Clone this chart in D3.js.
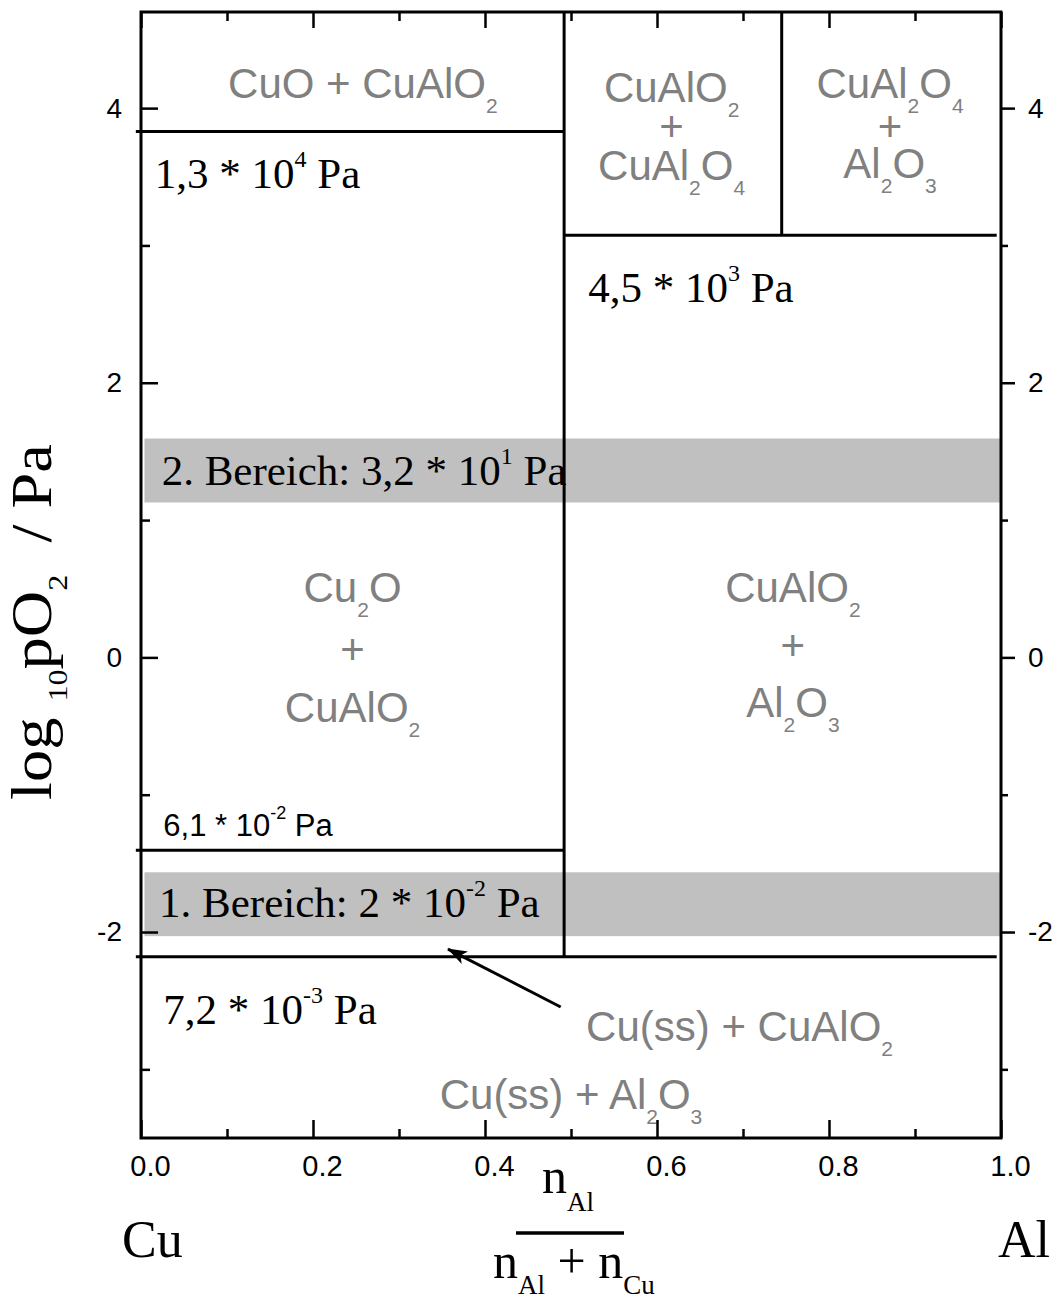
<!DOCTYPE html>
<html>
<head>
<meta charset="utf-8">
<script src="https://cdn.jsdelivr.net/npm/d3@7"></script>
<style>
  body { margin: 0; background: #fff; }
  svg text { white-space: pre; }
</style>
</head>
<body>
<div id="chart"></div>
<script>
// axis ticks
var xTicksMajor = [0.0, 0.2, 0.4, 0.6, 0.8, 1.0];
var xTicksMinor = [0.1, 0.3, 0.5, 0.7, 0.9];
var yTicksMajor = [-2, 0, 2, 4];
var yTicksMinor = [-3, -1, 1, 3];

// phase boundaries (x = n_Al/(n_Al+n_Cu), y = log10 pO2)
var vBoundaries = [
  { x: 0.492, y0: -2.18, y1: 4.7 },
  { x: 0.745, y0: 3.075, y1: 4.7 }
];
var hBoundaries = [
  { y: 3.83, x0: -0.006, x1: 0.492 },
  { y: 3.075, x0: 0.492, x1: 0.995 },
  { y: -1.405, x0: -0.006, x1: 0.492 },
  { y: -2.18, x0: -0.006, x1: 0.995 }
];

// grey bands of the two measuring ranges
var bands = [
  { lo: 1.128, hi: 1.594, x0: 0.004, x1: 1.0 },
  { lo: -2.03, hi: -1.565, x0: 0.004, x1: 1.0 }
];

// phase fields (grey), one entry per line of text
var phaseLabels = [
  { text: 'CuO + CuAlO_{2}', x: 0.258, y: 4.074 },
  { text: 'CuAlO_{2}', x: 0.617, y: 4.045 },
  { text: '+', x: 0.617, y: 3.761 },
  { text: 'CuAl_{2}O_{4}', x: 0.617, y: 3.477 },
  { text: 'CuAl_{2}O_{4}', x: 0.871, y: 4.074 },
  { text: '+', x: 0.871, y: 3.761 },
  { text: 'Al_{2}O_{3}', x: 0.871, y: 3.491 },
  { text: 'Cu_{2}O', x: 0.246, y: 0.403 },
  { text: '+', x: 0.246, y: -0.048 },
  { text: 'CuAlO_{2}', x: 0.246, y: -0.471 },
  { text: 'CuAlO_{2}', x: 0.758, y: 0.403 },
  { text: '+', x: 0.758, y: -0.019 },
  { text: 'Al_{2}O_{3}', x: 0.758, y: -0.434 },
  { text: 'Cu(ss) + CuAlO_{2}', x: 0.696, y: -2.794 },
  { text: 'Cu(ss) + Al_{2}O_{3}', x: 0.5, y: -3.289 }
];

// pressure notes (black)
var pressureLabels = [
  { text: '1,3 * 10^{4} Pa', x: 0.016, y: 3.418, serif: true },
  { text: '4,5 * 10^{3} Pa', x: 0.520, y: 2.588, serif: true },
  { text: '2. Bereich: 3,2 * 10^{1} Pa', x: 0.024, y: 1.255, serif: true },
  { text: '6,1 * 10^{-2} Pa', x: 0.026, y: -1.301, serif: false },
  { text: '1. Bereich: 2 * 10^{-2} Pa', x: 0.021, y: -1.891, serif: true },
  { text: '7,2 * 10^{-3} Pa', x: 0.026, y: -2.670, serif: true }
];

var arrowFrom = [0.488, -2.546];
var arrowTo = [0.357, -2.124];

var W = 1061, H = 1302;
var pLeft = 141, pRight = 1001, pTop = 12, pBottom = 1138;
var sans = "'Liberation Sans', Arial, sans-serif";
var serif = "'Liberation Serif', 'Times New Roman', serif";

var x = d3.scaleLinear().domain([0, 1]).range([pLeft, pRight]);
var y = d3.scaleLinear().domain([-3.5, 4.7]).range([pBottom, pTop]);

var svg = d3.select('#chart').append('svg')
  .attr('width', W)
  .attr('height', H)
  .attr('viewBox', '0 0 ' + W + ' ' + H);

svg.append('defs').append('marker')
  .attr('id', 'head')
  .attr('markerUnits', 'userSpaceOnUse')
  .attr('viewBox', '0 0 20 14')
  .attr('refX', 19).attr('refY', 7)
  .attr('markerWidth', 20).attr('markerHeight', 14)
  .attr('orient', 'auto')
  .append('path')
  .attr('d', 'M0,0 L20,7 L0,14 L5,7 Z')
  .attr('fill', '#000');

// writes "CuAl_{2}O_{4}" or "10^{-2}" as tspans
function richText(sel, str, size, o) {
  var parts = str.split(/([_^]\{[^}]*\})/).filter(function (s) { return s.length; });
  var shift = 0;
  parts.forEach(function (p) {
    var m = p.match(/^([_^])\{([^}]*)\}$/);
    var target = 0, fs = size, txt = p;
    if (m) {
      txt = m[2];
      fs = o.script;
      target = m[1] == '_' ? o.drop : -o.raise;
    }
    sel.append('tspan').attr('font-size', fs).attr('dy', target - shift).text(txt);
    shift = target;
  });
}

// bands
svg.append('g').selectAll('rect')
  .data(bands)
  .enter().append('rect')
  .attr('x', function (d) { return x(d.x0); })
  .attr('width', function (d) { return x(d.x1) - x(d.x0); })
  .attr('y', function (d) { return y(d.hi); })
  .attr('height', function (d) { return y(d.lo) - y(d.hi); })
  .attr('fill', '#c0c0c0');

// phase labels
svg.append('g').selectAll('text')
  .data(phaseLabels)
  .enter().append('text')
  .attr('x', function (d) { return x(d.x); })
  .attr('y', function (d) { return y(d.y); })
  .attr('text-anchor', 'middle')
  .attr('font-family', sans)
  .attr('fill', '#808080')
  .each(function (d) { richText(d3.select(this), d.text, 42, { script: 21, drop: 15, raise: 0 }); });

// pressure labels
svg.append('g').selectAll('text')
  .data(pressureLabels)
  .enter().append('text')
  .attr('x', function (d) { return x(d.x); })
  .attr('y', function (d) { return y(d.y); })
  .attr('font-family', function (d) { return d.serif ? serif : sans; })
  .attr('fill', '#000')
  .each(function (d) {
    if (d.serif) richText(d3.select(this), d.text, 43, { script: 24, drop: 0, raise: 21 });
    else richText(d3.select(this), d.text, 31, { script: 18, drop: 0, raise: 17 });
  });

// boundaries
var lines = svg.append('g').attr('stroke', '#000').attr('stroke-width', 3);
lines.selectAll('.v')
  .data(vBoundaries)
  .enter().append('line')
  .attr('class', 'v')
  .attr('x1', function (d) { return x(d.x); })
  .attr('x2', function (d) { return x(d.x); })
  .attr('y1', function (d) { return y(d.y0); })
  .attr('y2', function (d) { return y(d.y1); });
lines.selectAll('.h')
  .data(hBoundaries)
  .enter().append('line')
  .attr('class', 'h')
  .attr('y1', function (d) { return y(d.y); })
  .attr('y2', function (d) { return y(d.y); })
  .attr('x1', function (d) { return x(d.x0); })
  .attr('x2', function (d) { return x(d.x1); });

// arrow
svg.append('line')
  .attr('x1', x(arrowFrom[0])).attr('y1', y(arrowFrom[1]))
  .attr('x2', x(arrowTo[0])).attr('y2', y(arrowTo[1]))
  .attr('stroke', '#000').attr('stroke-width', 3)
  .attr('marker-end', 'url(#head)');

// axes
function styleAxis(g) {
  g.select('.domain').remove();
  g.selectAll('.tick line').attr('stroke', '#000').attr('stroke-width', 2.5);
  g.selectAll('.tick text').attr('font-family', sans).attr('font-size', 28).attr('fill', '#000');
}
var intFormat = function (d) { return String(d); }; // plain hyphen for negatives

svg.append('g').attr('transform', 'translate(0,' + pBottom + ')')
  .call(d3.axisBottom(x).tickValues(xTicksMajor).tickSize(-18).tickPadding(17).tickFormat(d3.format('.1f')))
  .call(styleAxis)
  .selectAll('.tick text').attr('dx', 9).attr('font-size', 29);
svg.append('g').attr('transform', 'translate(0,' + pBottom + ')')
  .call(d3.axisBottom(x).tickValues(xTicksMinor).tickSize(-9).tickFormat(''))
  .call(styleAxis);

svg.append('g').attr('transform', 'translate(0,' + pTop + ')')
  .call(d3.axisTop(x).tickValues(xTicksMajor).tickSize(-16).tickFormat(''))
  .call(styleAxis);
svg.append('g').attr('transform', 'translate(0,' + pTop + ')')
  .call(d3.axisTop(x).tickValues(xTicksMinor).tickSize(-9).tickFormat(''))
  .call(styleAxis);

svg.append('g').attr('transform', 'translate(' + pLeft + ',0)')
  .call(d3.axisLeft(y).tickValues(yTicksMajor).tickSize(-17).tickPadding(19).tickFormat(intFormat))
  .call(styleAxis);
svg.append('g').attr('transform', 'translate(' + pLeft + ',0)')
  .call(d3.axisLeft(y).tickValues(yTicksMinor).tickSize(-9).tickFormat(''))
  .call(styleAxis);

svg.append('g').attr('transform', 'translate(' + pRight + ',0)')
  .call(d3.axisRight(y).tickValues(yTicksMajor).tickSize(14).tickPadding(13).tickFormat(intFormat))
  .call(styleAxis);
svg.append('g').attr('transform', 'translate(' + pRight + ',0)')
  .call(d3.axisRight(y).tickValues(yTicksMinor).tickSize(7).tickFormat(''))
  .call(styleAxis);

// frame
svg.append('rect')
  .attr('x', pLeft).attr('y', pTop)
  .attr('width', pRight - pLeft).attr('height', pBottom - pTop)
  .attr('fill', 'none').attr('stroke', '#000').attr('stroke-width', 3);

// x axis title: Cu ... n_Al/(n_Al+n_Cu) ... Al
svg.append('text').attr('x', 122).attr('y', 1257)
  .attr('font-family', serif).attr('font-size', 52).text('Cu');
svg.append('text').attr('x', 998).attr('y', 1257)
  .attr('font-family', serif).attr('font-size', 52).text('Al');

var num = svg.append('text').attr('x', 542).attr('y', 1193).attr('font-family', serif);
richText(num, 'n_{Al}', 50, { script: 27, drop: 18, raise: 0 });

svg.append('line')
  .attr('x1', 516).attr('x2', 624).attr('y1', 1233).attr('y2', 1233)
  .attr('stroke', '#000').attr('stroke-width', 3.5);

var den = svg.append('text').attr('x', 493).attr('y', 1278).attr('font-family', serif);
richText(den, 'n_{Al} + n_{Cu}', 50, { script: 27, drop: 16, raise: 0 });

// y axis title
var yt = svg.append('text')
  .attr('transform', 'translate(51,622) rotate(-90) scale(1.15,1)')
  .attr('text-anchor', 'middle')
  .attr('font-family', serif);
richText(yt, 'log _{10}pO_{2}  / Pa', 56, { script: 28, drop: 16, raise: 0 });
</script>
</body>
</html>
